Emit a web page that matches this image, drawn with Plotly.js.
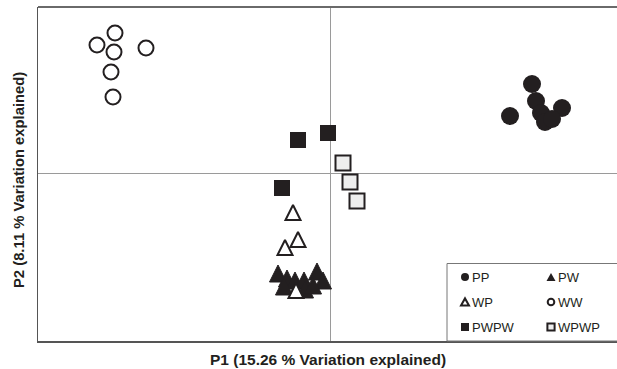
<!DOCTYPE html>
<html><head><meta charset="utf-8">
<script src="https://cdn.plot.ly/plotly-3.0.1.min.js"></script>
<style>html,body{margin:0;padding:0;background:#fff}#chart{width:617px;height:369px}</style>
</head><body><div id="chart"></div>
<script>
// ---- data (PCA scores) ----
var groups = ['PP', 'PW', 'WP', 'WW', 'PWPW', 'WPWP'];
var PP_x = [2.02, 2.06, 1.80, 2.11, 2.32, 2.15, 2.22];
var PP_y = [0.89, 0.72, 0.57, 0.60, 0.65, 0.51, 0.54];
var PW_x = [-0.52, -0.43, -0.35, -0.26, -0.13, -0.07, -0.46, -0.25, -0.17];
var PW_y = [-0.92, -0.97, -0.99, -0.99, -0.90, -0.99, -1.05, -1.08, -1.04];
var WP_x = [-0.37, -0.32, -0.45, -0.34];
var WP_y = [-0.32, -0.59, -0.67, -1.10];
var WW_x = [-2.15, -2.33, -2.16, -1.84, -2.19, -2.17];
var WW_y = [1.40, 1.28, 1.21, 1.25, 1.01, 0.76];
var PWPW_x = [-0.32, -0.02, -0.48];
var PWPW_y = [0.33, 0.40, -0.15];
var WPWP_x = [0.13, 0.20, 0.27];
var WPWP_y = [0.10, -0.09, -0.28];
var xTitle = 'P1 (15.26 % Variation explained)';
var yTitle = 'P2 (8.11 % Variation explained)';

var INK = '#231f20';
var FONT = 'Liberation Sans, Arial, sans-serif';

var styles = {
  PP:   {symbol: 'circle', size: 18, color: INK, line: {width: 0, color: INK}},
  PW:   {symbol: 'arrow-up', size: 17, color: INK, line: {width: 1, color: INK}},
  WP:   {symbol: 'arrow-up', size: 15, color: '#ffffff', line: {width: 2, color: INK}},
  WW:   {symbol: 'circle-open', size: 15, color: INK, line: {width: 2, color: INK}},
  PWPW: {symbol: 'square', size: 16, color: INK, line: {width: 0, color: INK}},
  WPWP: {symbol: 'square', size: 15, color: '#eeeeee', line: {width: 2, color: INK}}
};
var xs = {PP: PP_x, PW: PW_x, WP: WP_x, WW: WW_x, PWPW: PWPW_x, WPWP: WPWP_x};
var ys = {PP: PP_y, PW: PW_y, WP: WP_y, WW: WW_y, PWPW: PWPW_y, WPWP: WPWP_y};

var traces = groups.map(function (g) {
  return {type: 'scatter', mode: 'markers', name: g, x: xs[g], y: ys[g],
          marker: styles[g], showlegend: false, hoverinfo: 'skip', cliponaxis: false};
});

// ---- layout helpers (pixel -> paper) ----
var L = 38, T = 7, W = 579, H = 334;
function px(p) { return (p - L) / W; }
function py(p) { return (T + H - p) / H; }

var shapes = [
  {type: 'line', xref: 'paper', yref: 'paper', x0: 0, x1: 1, y0: 1, y1: 1,
   line: {color: '#6a6a6a', width: 2}},
  {type: 'rect', xref: 'paper', yref: 'paper', x0: px(447), x1: 1.02, y0: 0, y1: py(263.5),
   line: {color: '#777777', width: 1}, fillcolor: '#ffffff', layer: 'above'}
];
var annotations = [
  {xref: 'paper', yref: 'paper', x: 0.5, y: py(359), text: '<b>' + xTitle + '</b>',
   showarrow: false, xanchor: 'center', yanchor: 'middle', font: {family: FONT, size: 15.5, color: INK}},
  {xref: 'paper', yref: 'paper', x: px(19), y: py(180), text: '<b>' + yTitle + '</b>', textangle: -90,
   showarrow: false, xanchor: 'center', yanchor: 'middle', font: {family: FONT, size: 14.8, color: INK}}
];

// legend (2 columns x 3 rows)
var colX = [465, 551], rowY = [277, 302, 327];
groups.forEach(function (g, i) {
  var cx = colX[i % 2], cy = rowY[Math.floor(i / 2)];
  var s = styles[g];
  var open = (s.symbol === 'circle-open') || s.color === '#ffffff' || s.color === '#eeeeee';
  var fill = s.symbol === 'circle-open' ? 'rgba(0,0,0,0)' : s.color;
  var lw = open ? 2 : 0;
  if (s.symbol.indexOf('circle') === 0) {
    var rr = open ? 3.3 : 4;
    shapes.push({type: 'circle', xref: 'paper', yref: 'paper', x0: px(cx - rr), x1: px(cx + rr),
      y0: py(cy + rr), y1: py(cy - rr), fillcolor: fill, line: {color: INK, width: lw}, layer: 'above'});
  } else if (s.symbol === 'square') {
    var q = open ? 3.6 : 4;
    shapes.push({type: 'rect', xref: 'paper', yref: 'paper', x0: px(cx - q), x1: px(cx + q),
      y0: py(cy + q), y1: py(cy - q), fillcolor: fill, line: {color: INK, width: lw}, layer: 'above'});
  } else {
    var hw = open ? 4 : 4.5, hh = open ? 3.6 : 4;
    var path = 'M' + px(cx - hw) + ',' + py(cy + hh) + 'L' + px(cx + hw) + ',' + py(cy + hh) +
               'L' + px(cx) + ',' + py(cy - hh) + 'Z';
    shapes.push({type: 'path', xref: 'paper', yref: 'paper', path: path, fillcolor: fill,
      line: {color: INK, width: lw}, layer: 'above'});
  }
  annotations.push({xref: 'paper', yref: 'paper', x: px(cx + 5), y: py(cy), text: g,
    showarrow: false, xanchor: 'left', yanchor: 'middle',
    font: {family: FONT, size: 13, color: INK}});
});

var axisCommon = {showgrid: false, zeroline: true, zerolinecolor: '#9a9a9a', zerolinewidth: 1,
  showticklabels: false, ticks: '', showline: true, linecolor: '#555555', linewidth: 1.5,
  fixedrange: true};

var layout = {
  width: 617, height: 369,
  margin: {l: L, r: 0, t: T, b: 369 - T - H, pad: 0},
  paper_bgcolor: '#ffffff', plot_bgcolor: '#ffffff',
  showlegend: false,
  xaxis: Object.assign({range: [-2.92, 2.87]}, axisCommon),
  yaxis: Object.assign({range: [-1.68, 1.66]}, axisCommon),
  shapes: shapes,
  annotations: annotations
};

Plotly.newPlot('chart', traces, layout, {staticPlot: true, displayModeBar: false});
</script>
</body></html>
